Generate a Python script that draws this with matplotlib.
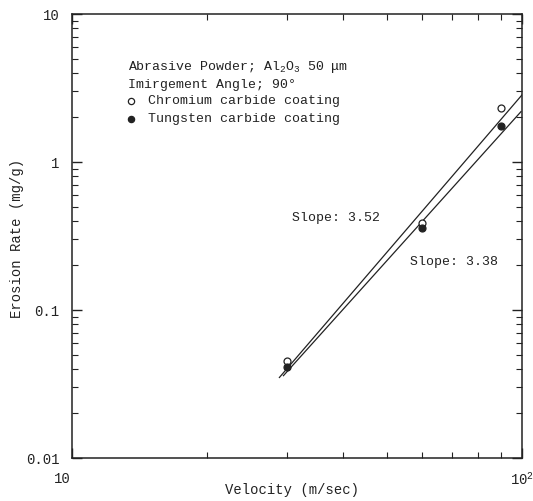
import matplotlib
matplotlib.use('Agg')
from matplotlib import pyplot as plt
from matplotlib import transforms
from matplotlib.ticker import NullFormatter

velocity = [30, 60, 90]
chromium = [0.0454, 0.385, 2.33]
tungsten = [0.041, 0.356, 1.75]

# fitted lines (end points)
chrom_fit_v = [28.9, 100]
chrom_fit_e = [0.035, 2.84]
tung_fit_v = [29.5, 99.5]
tung_fit_e = [0.036, 2.19]

xticks = [10, 100]
xlabels = ['10', '10$^2$']
yticks = [0.01, 0.1, 1, 10]
ylabels = ['0.01', '0.1', '1', '10']

plt.rcParams['font.family'] = ['Liberation Mono', 'DejaVu Sans']
plt.rcParams['mathtext.fontset'] = 'custom'
plt.rcParams['mathtext.rm'] = 'Liberation Mono'
plt.rcParams['mathtext.it'] = 'Liberation Mono'
ink = '#222222'

W, H = 533, 501
fig = plt.figure(figsize=(W / 100, H / 100), dpi=100)
ax = fig.add_axes([72 / W, 1 - 458 / H, 450 / W, 444 / H])
ax.set_xscale('log')
ax.set_yscale('log')
ax.set_xlim(10, 100)
ax.set_ylim(0.01, 10)

ax.plot(chrom_fit_v, chrom_fit_e, color=ink, lw=0.9)
ax.plot(tung_fit_v, tung_fit_e, color=ink, lw=0.9)
ax.plot(velocity, chromium, 'o', ms=5, mfc='white', mec=ink, mew=0.9)
ax.plot(velocity, tungsten, 'o', ms=5, mfc=ink, mec=ink, mew=0.9)

ax.set_xticks(xticks)
ax.set_xticklabels(xlabels)
ax.set_yticks(yticks)
ax.set_yticklabels(ylabels)
ax.xaxis.set_minor_formatter(NullFormatter())
ax.yaxis.set_minor_formatter(NullFormatter())
ax.tick_params(which='both', direction='in', top=True, right=True, colors=ink, labelsize=10)
ax.tick_params(which='major', length=7, width=1)
ax.tick_params(which='minor', length=4, width=0.8)
ax.tick_params(axis='y', pad=9)
ax.tick_params(axis='x', pad=10)
for s in ax.spines.values():
    s.set_color(ink)
    s.set_linewidth(1.1)

# first x label sits a bit left of the axis in the original
off = transforms.ScaledTranslation(-10 / 100, 0, fig.dpi_scale_trans)
lab = ax.get_xticklabels()[0]
lab.set_transform(lab.get_transform() + off)

def ftext(x, y, s, size=9.5, **kw):
    fig.text(x / W, 1 - y / H, s, va='center', color=ink, fontsize=size, **kw)

ftext(292, 490, 'Velocity (m/sec)', size=10, ha='center')
ftext(17, 238, 'Erosion Rate (mg/g)', size=10, ha='center', rotation=90)

ftext(128, 67, 'Abrasive Powder; Al$_2$O$_3$ 50 μm')
ftext(128, 85, 'Imirgement Angle; 90°')
ftext(148, 101, 'Chromium carbide coating')
ftext(148, 119, 'Tungsten carbide coating')
fig.lines.append(plt.Line2D([131 / W], [1 - 101 / H], marker='o', ms=4.5, mfc='white',
                            mec=ink, mew=0.9, transform=fig.transFigure))
fig.lines.append(plt.Line2D([131 / W], [1 - 119 / H], marker='o', ms=4.5, mfc=ink,
                            mec=ink, mew=0.9, transform=fig.transFigure))
ftext(292, 218, 'Slope: 3.52')
ftext(410, 262, 'Slope: 3.38')

fig.savefig('out.png', dpi=100)
